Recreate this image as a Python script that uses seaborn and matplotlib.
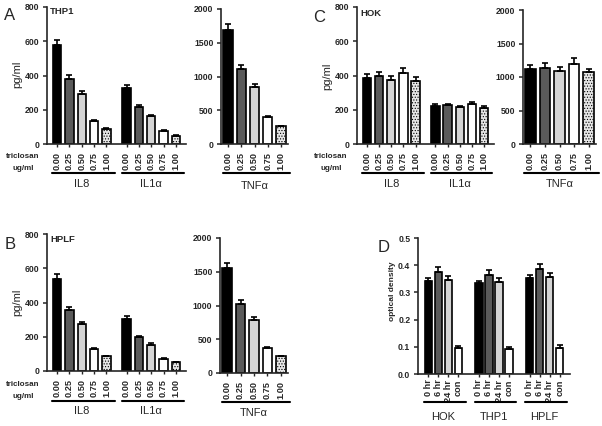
import matplotlib
matplotlib.use("Agg")
import matplotlib.pyplot as plt
import matplotlib.transforms as mtransforms
from matplotlib.container import BarContainer
import seaborn as sns
import pandas as pd
import numpy as np

# ---- data ----
doses = ["0.00", "0.25", "0.50", "0.75", "1.00"]
cytokines = ["IL8", "IL1α"]

# A: THP1
thp1_il8 = [580, 382, 292, 135, 89]
thp1_il8_err = [30, 22, 18, 8, 6]
thp1_il1a = [327, 217, 164, 76, 49]
thp1_il1a_err = [18, 10, 8, 5, 4]
thp1_tnfa = [1692, 1113, 850, 395, 260]
thp1_tnfa_err = [85, 60, 45, 15, 10]

# C: HOK
hok_il8 = [388, 396, 376, 414, 369]
hok_il8_err = [22, 24, 22, 29, 21]
hok_il1a = [221, 225, 214, 236, 210]
hok_il1a_err = [10, 10, 9, 10, 9]
hok_tnfa = [1124, 1139, 1095, 1194, 1070]
hok_tnfa_err = [55, 75, 60, 85, 55]

# B: HPLF
hplf_il8 = [536, 357, 272, 126, 85]
hplf_il8_err = [29, 17, 12, 7, 5]
hplf_il1a = [305, 200, 154, 72, 50]
hplf_il1a_err = [16, 7, 7, 4, 3]
hplf_tnfa = [1552, 1020, 788, 365, 246]
hplf_tnfa_err = [83, 64, 35, 24, 10]

# D: optical density
cells = ["HOK", "THP1", "HPLF"]
times = ["0 hr", "6 hr", "24 hr", "con"]
od_0hr = [0.343, 0.334, 0.353]
od_0hr_err = [0.010, 0.007, 0.010]
od_6hr = [0.375, 0.365, 0.387]
od_6hr_err = [0.018, 0.016, 0.017]
od_24hr = [0.346, 0.338, 0.356]
od_24hr_err = [0.016, 0.015, 0.017]
od_con = [0.095, 0.093, 0.096]
od_con_err = [0.009, 0.007, 0.009]

dose_colors = ["#000000", "#5a5a5a", "#d4d4d4", "#ffffff", "#ffffff"]
time_colors = ["#000000", "#5a5a5a", "#d4d4d4", "#ffffff"]

sns.set_style("ticks")
plt.rcParams["font.family"] = ["Liberation Sans", "DejaVu Sans"]
plt.rcParams["hatch.linewidth"] = 0.5

W, H = 602, 426
fig = plt.figure(figsize=(W / 100, H / 100), dpi=100)


def px_axes(left, right, top, bottom):
    return fig.add_axes([left / W, 1 - bottom / H, (right - left) / W, (bottom - top) / H])


def fig_y(py):
    return 1 - py / H


def bar_panel(ax, cats, hues, series, errs, colors, width, gap, ymax, step,
              fmt="%d", hatch_last=False, line_y=173, label_y=184, tick_pad=3.5):
    rows = []
    for hi, h in enumerate(hues):
        for ci, c in enumerate(cats):
            rows.append({"cat": c, "hue": h, "value": series[hi][ci]})
    df = pd.DataFrame(rows)
    sns.barplot(data=df, x="cat", y="value", hue="hue", order=cats, hue_order=hues,
                palette=colors, saturation=1, width=width, gap=gap, errorbar=None,
                edgecolor="black", linewidth=1.2, legend=False, ax=ax)

    bar_conts = [c for c in ax.containers if isinstance(c, BarContainer)]
    centers, groups = [], {}
    for hi, cont in enumerate(bar_conts):
        for ci, bar in enumerate(cont.patches):
            x = bar.get_x() + bar.get_width() / 2
            ax.errorbar([x], [series[hi][ci]], yerr=[[0], [errs[hi][ci]]], fmt="none",
                        ecolor="black", elinewidth=1.2, capsize=2.2, capthick=1.2)
            centers.append((ci, hi, x))
            lo, up = groups.get(ci, (np.inf, -np.inf))
            groups[ci] = (min(lo, bar.get_x()), max(up, bar.get_x() + bar.get_width()))
            if hatch_last and hi == len(hues) - 1:
                bar.set_hatch("......")
                bar.set_facecolor("#e6e6e6")
    centers.sort()
    ax.set_xticks([c[2] for c in centers])
    ax.set_xticklabels([hues[c[1]] for c in centers], rotation=90, fontweight="bold", fontsize=6.6)
    ax.set_xlabel("")
    ax.set_ylabel("")
    ax.set_xlim(-0.5, len(cats) - 0.5)
    ax.set_ylim(0, ymax)
    ticks = np.arange(0, ymax + step / 2, step)
    ax.set_yticks(ticks)
    ax.set_yticklabels([fmt % v for v in ticks], fontweight="bold", fontsize=6.2)
    ax.tick_params(axis="y", length=3, width=1.1, pad=2.5)
    ax.tick_params(axis="x", length=2.5, width=1.0, pad=tick_pad)
    for s in ["top", "right"]:
        ax.spines[s].set_visible(False)
    for s in ["left", "bottom"]:
        ax.spines[s].set_linewidth(1.2)

    trans = mtransforms.blended_transform_factory(ax.transData, fig.transFigure)
    spacing = width / len(hues)
    for ci, c in enumerate(cats):
        lo, up = groups[ci]
        ax.plot([lo - 0.05 * spacing, up + 0.35 * spacing], [fig_y(line_y)] * 2,
                color="black", lw=1.5, transform=trans, clip_on=False)
        ax.text((lo + up) / 2, fig_y(label_y), c, transform=trans, ha="center",
                va="center", fontsize=8)


# panel A
ax = px_axes(47, 186, 7, 144)
bar_panel(ax, cytokines, doses, [list(v) for v in zip(thp1_il8, thp1_il1a)],
          [list(v) for v in zip(thp1_il8_err, thp1_il1a_err)], dose_colors,
          0.888, 0.32, 800, 200, hatch_last=True)
ax = px_axes(221, 288, 9, 144)
bar_panel(ax, ["TNFα"], doses, [[v] for v in thp1_tnfa], [[v] for v in thp1_tnfa_err],
          dose_colors, 0.99, 0.3, 2000, 500, hatch_last=True, label_y=186)

# panel C
ax = px_axes(357, 494, 7, 144)
bar_panel(ax, cytokines, doses, [list(v) for v in zip(hok_il8, hok_il1a)],
          [list(v) for v in zip(hok_il8_err, hok_il1a_err)], dose_colors,
          0.888, 0.32, 800, 200, hatch_last=True)
ax = px_axes(523, 596, 10, 144)
bar_panel(ax, ["TNFα"], doses, [[v] for v in hok_tnfa], [[v] for v in hok_tnfa_err],
          dose_colors, 1.0, 0.28, 2000, 500, hatch_last=True)

# panel B
ax = px_axes(47, 186, 234, 371)
bar_panel(ax, cytokines, doses, [list(v) for v in zip(hplf_il8, hplf_il1a)],
          [list(v) for v in zip(hplf_il8_err, hplf_il1a_err)], dose_colors,
          0.888, 0.32, 800, 200, hatch_last=True, line_y=401, label_y=411)
ax = px_axes(220, 288, 238, 373)
bar_panel(ax, ["TNFα"], doses, [[v] for v in hplf_tnfa], [[v] for v in hplf_tnfa_err],
          dose_colors, 0.99, 0.3, 2000, 500, hatch_last=True, line_y=402, label_y=413)

# panel D
ax = px_axes(418, 570, 238, 374)
bar_panel(ax, cells, times, [od_0hr, od_6hr, od_24hr, od_con],
          [od_0hr_err, od_6hr_err, od_24hr_err, od_con_err], time_colors,
          0.79, 0.25, 0.5, 0.1, fmt="%.1f", line_y=402, label_y=417, tick_pad=1.5)

# texts
for letter, x, y in [("A", 10, 16), ("C", 319, 17), ("B", 10, 244), ("D", 384, 247)]:
    fig.text(x / W, fig_y(y), letter, fontsize=12, ha="center", va="center")
for name, x, y in [("THP1", 50, 12), ("HOK", 360, 13), ("HPLF", 50, 239)]:
    fig.text(x / W, fig_y(y), name, fontsize=6.8, fontweight="bold", ha="left", va="center")
for x, y in [(17, 74), (327, 76), (17, 302)]:
    fig.text(x / W, fig_y(y), "pg/ml", fontsize=8, rotation=90, ha="center", va="center")
fig.text(392 / W, fig_y(291), "optical density", fontsize=6, fontweight="bold",
         rotation=90, ha="center", va="center")
for x, y in [(23, 157), (331, 157), (23, 384)]:
    fig.text(x / W, fig_y(y), "triclosan", fontsize=5.8, fontweight="bold", ha="center", va="center")
    fig.text(x / W, fig_y(y + 12), "ug/ml", fontsize=5.8, fontweight="bold", ha="center", va="center")

fig.savefig("out.png", dpi=100)
